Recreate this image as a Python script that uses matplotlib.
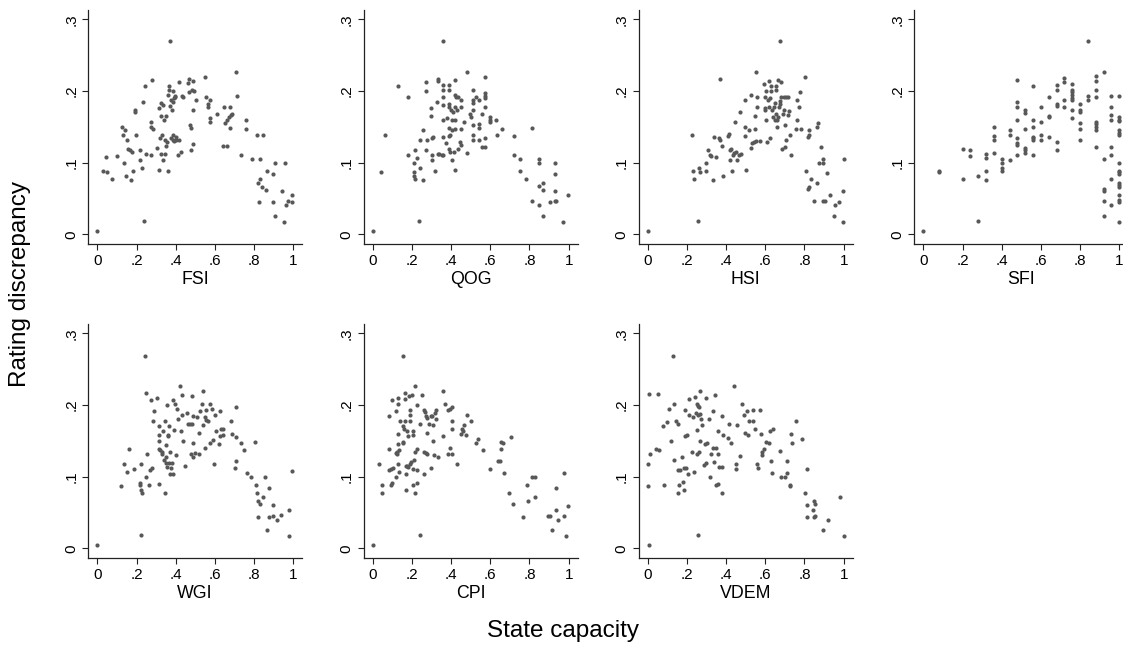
import matplotlib
matplotlib.use('Agg')
import matplotlib.pyplot as plt

plt.rcParams['font.family'] = ['Liberation Sans', 'DejaVu Sans']

# (state capacity, rating discrepancy) per country
fsi_points = [
    (0.000, 0.004), (0.027, 0.089), (0.044, 0.108), (0.048, 0.087), (0.073, 0.077),
    (0.098, 0.109), (0.124, 0.150), (0.132, 0.139), (0.141, 0.145), (0.138, 0.100),
    (0.149, 0.132), (0.146, 0.082), (0.158, 0.119), (0.166, 0.118), (0.171, 0.076),
    (0.177, 0.115), (0.180, 0.089), (0.192, 0.170), (0.194, 0.173), (0.197, 0.138),
    (0.217, 0.117), (0.217, 0.104), (0.228, 0.092), (0.231, 0.185), (0.238, 0.019),
    (0.244, 0.207), (0.248, 0.112), (0.272, 0.157), (0.273, 0.150), (0.278, 0.215),
    (0.282, 0.147), (0.273, 0.111), (0.306, 0.120), (0.314, 0.176), (0.316, 0.090),
    (0.319, 0.135), (0.323, 0.112), (0.326, 0.183), (0.326, 0.165), (0.328, 0.139),
    (0.333, 0.180), (0.336, 0.103), (0.340, 0.159), (0.343, 0.132), (0.345, 0.112),
    (0.353, 0.165), (0.353, 0.123), (0.357, 0.129), (0.362, 0.194), (0.363, 0.089),
    (0.367, 0.207), (0.370, 0.269), (0.367, 0.201), (0.372, 0.179), (0.374, 0.134),
    (0.377, 0.188), (0.380, 0.173), (0.384, 0.132), (0.384, 0.185), (0.387, 0.200),
    (0.387, 0.139), (0.389, 0.130), (0.390, 0.190), (0.394, 0.191), (0.396, 0.193),
    (0.404, 0.136), (0.404, 0.132), (0.413, 0.111), (0.416, 0.132), (0.418, 0.212),
    (0.428, 0.115), (0.430, 0.193), (0.436, 0.192), (0.463, 0.211), (0.469, 0.217),
    (0.469, 0.198), (0.475, 0.153), (0.479, 0.149), (0.484, 0.202), (0.486, 0.173),
    (0.480, 0.118), (0.489, 0.126), (0.489, 0.214), (0.492, 0.200), (0.503, 0.187),
    (0.547, 0.220), (0.553, 0.191), (0.564, 0.182), (0.564, 0.177), (0.574, 0.187),
    (0.574, 0.162), (0.574, 0.157), (0.613, 0.168), (0.642, 0.123), (0.645, 0.177),
    (0.650, 0.155), (0.662, 0.123), (0.662, 0.159), (0.672, 0.163), (0.679, 0.177),
    (0.679, 0.148), (0.684, 0.167), (0.689, 0.168), (0.710, 0.226), (0.713, 0.193),
    (0.735, 0.111), (0.757, 0.160), (0.757, 0.147), (0.791, 0.105), (0.817, 0.139),
    (0.847, 0.138), (0.828, 0.105), (0.907, 0.100), (0.958, 0.099), (0.864, 0.088),
    (0.899, 0.084), (0.828, 0.077), (0.822, 0.071), (0.839, 0.066), (0.859, 0.062),
    (0.941, 0.060), (0.991, 0.055), (0.825, 0.045), (0.899, 0.045), (0.973, 0.046),
    (0.996, 0.045), (0.965, 0.041), (0.907, 0.026), (0.953, 0.017),
]

qog_points = [
    (0.000, 0.004), (0.043, 0.087), (0.061, 0.139), (0.128, 0.207), (0.179, 0.192),
    (0.181, 0.111), (0.211, 0.100), (0.211, 0.087), (0.211, 0.082), (0.214, 0.077),
    (0.216, 0.117), (0.226, 0.107), (0.235, 0.019), (0.242, 0.132), (0.242, 0.092),
    (0.255, 0.145), (0.255, 0.076), (0.270, 0.212), (0.270, 0.200), (0.272, 0.118),
    (0.275, 0.131), (0.299, 0.176), (0.299, 0.165), (0.301, 0.135), (0.301, 0.111),
    (0.301, 0.103), (0.306, 0.136), (0.316, 0.088), (0.332, 0.216), (0.332, 0.214),
    (0.330, 0.185), (0.332, 0.112), (0.340, 0.112), (0.352, 0.111), (0.357, 0.208),
    (0.361, 0.269), (0.361, 0.201), (0.361, 0.191), (0.361, 0.180), (0.361, 0.159),
    (0.361, 0.136), (0.361, 0.110), (0.374, 0.127), (0.378, 0.162), (0.388, 0.137),
    (0.390, 0.208), (0.390, 0.201), (0.390, 0.182), (0.391, 0.178), (0.391, 0.149),
    (0.391, 0.119), (0.395, 0.139), (0.395, 0.115), (0.400, 0.173), (0.403, 0.160),
    (0.407, 0.145), (0.407, 0.104), (0.412, 0.171), (0.415, 0.115), (0.419, 0.215),
    (0.419, 0.194), (0.420, 0.090), (0.422, 0.177), (0.422, 0.159), (0.422, 0.147),
    (0.426, 0.192), (0.429, 0.174), (0.434, 0.119), (0.437, 0.192), (0.446, 0.129),
    (0.449, 0.187), (0.449, 0.177), (0.449, 0.147), (0.453, 0.125), (0.466, 0.156),
    (0.480, 0.226), (0.482, 0.113), (0.497, 0.168), (0.500, 0.164), (0.511, 0.201),
    (0.511, 0.187), (0.511, 0.183), (0.511, 0.173), (0.511, 0.153), (0.511, 0.139),
    (0.511, 0.132), (0.528, 0.192), (0.540, 0.187), (0.540, 0.154), (0.541, 0.148),
    (0.541, 0.132), (0.557, 0.168), (0.558, 0.122), (0.572, 0.220), (0.572, 0.197),
    (0.572, 0.193), (0.572, 0.190), (0.572, 0.177), (0.572, 0.134), (0.572, 0.122),
    (0.599, 0.163), (0.599, 0.159), (0.601, 0.157), (0.631, 0.159), (0.633, 0.139),
    (0.662, 0.147), (0.722, 0.137), (0.722, 0.111), (0.752, 0.105), (0.752, 0.088),
    (0.783, 0.077), (0.814, 0.149), (0.812, 0.046), (0.846, 0.105), (0.846, 0.099),
    (0.846, 0.067), (0.848, 0.041), (0.871, 0.071), (0.871, 0.062), (0.871, 0.026),
    (0.907, 0.045), (0.931, 0.099), (0.931, 0.084), (0.931, 0.060), (0.931, 0.046),
    (0.934, 0.047), (0.999, 0.055), (0.971, 0.017),
]

hsi_points = [
    (0.000, 0.004), (0.224, 0.139), (0.232, 0.088), (0.234, 0.077), (0.256, 0.019),
    (0.263, 0.092), (0.266, 0.087), (0.295, 0.088), (0.297, 0.100), (0.308, 0.118),
    (0.317, 0.111), (0.325, 0.109), (0.331, 0.076), (0.336, 0.136), (0.347, 0.108),
    (0.364, 0.134), (0.368, 0.132), (0.368, 0.217), (0.381, 0.123), (0.386, 0.082),
    (0.412, 0.137), (0.415, 0.140), (0.420, 0.117), (0.422, 0.103), (0.427, 0.119),
    (0.431, 0.088), (0.436, 0.111), (0.441, 0.113), (0.447, 0.156), (0.453, 0.115),
    (0.458, 0.104), (0.466, 0.111), (0.469, 0.170), (0.478, 0.112), (0.495, 0.150),
    (0.498, 0.187), (0.498, 0.137), (0.503, 0.090), (0.517, 0.146), (0.525, 0.194),
    (0.529, 0.120), (0.534, 0.127), (0.541, 0.129), (0.546, 0.165), (0.547, 0.147),
    (0.551, 0.226), (0.554, 0.130), (0.558, 0.191), (0.559, 0.178), (0.571, 0.130),
    (0.592, 0.209), (0.597, 0.176), (0.598, 0.191), (0.600, 0.173), (0.602, 0.159),
    (0.605, 0.200), (0.608, 0.129), (0.612, 0.187), (0.619, 0.214), (0.619, 0.177),
    (0.622, 0.190), (0.625, 0.134), (0.629, 0.200), (0.631, 0.207), (0.636, 0.173),
    (0.639, 0.164), (0.642, 0.177), (0.647, 0.160), (0.651, 0.183), (0.653, 0.201),
    (0.654, 0.207), (0.656, 0.168), (0.658, 0.150), (0.659, 0.159), (0.663, 0.164),
    (0.664, 0.215), (0.669, 0.178), (0.673, 0.186), (0.676, 0.269), (0.676, 0.182),
    (0.678, 0.191), (0.681, 0.213), (0.686, 0.119), (0.690, 0.168), (0.693, 0.192),
    (0.698, 0.173), (0.703, 0.122), (0.703, 0.153), (0.707, 0.191), (0.707, 0.132),
    (0.715, 0.192), (0.717, 0.167), (0.720, 0.172), (0.724, 0.139), (0.731, 0.111),
    (0.758, 0.147), (0.761, 0.187), (0.763, 0.159), (0.771, 0.177), (0.778, 0.198),
    (0.781, 0.147), (0.805, 0.220), (0.821, 0.146), (0.864, 0.150), (0.868, 0.155),
    (0.821, 0.139), (0.818, 0.136), (0.882, 0.122), (0.872, 0.100), (0.897, 0.105),
    (0.897, 0.099), (1.000, 0.105), (0.915, 0.085), (0.807, 0.088), (0.834, 0.077),
    (0.821, 0.066), (0.817, 0.063), (0.865, 0.072), (0.848, 0.046), (0.894, 0.046),
    (0.903, 0.047), (0.932, 0.055), (0.954, 0.041), (0.976, 0.045), (0.997, 0.060),
    (0.949, 0.026), (0.997, 0.017),
]

sfi_points = [
    (0.00, 0.004), (0.08, 0.088), (0.08, 0.087), (0.20, 0.119), (0.20, 0.077),
    (0.24, 0.118), (0.24, 0.109), (0.28, 0.082), (0.28, 0.019),
    (0.32, 0.112), (0.32, 0.107), (0.32, 0.088), (0.32, 0.076),
    (0.36, 0.150), (0.36, 0.137), (0.36, 0.132), (0.36, 0.114),
    (0.40, 0.105), (0.40, 0.100), (0.40, 0.092), (0.40, 0.088),
    (0.44, 0.145), (0.44, 0.139), (0.44, 0.103),
    (0.48, 0.215), (0.48, 0.185), (0.48, 0.177), (0.48, 0.159), (0.48, 0.134),
    (0.48, 0.127), (0.48, 0.124), (0.48, 0.111),
    (0.52, 0.174), (0.52, 0.169), (0.52, 0.147), (0.52, 0.120), (0.52, 0.117), (0.52, 0.113),
    (0.56, 0.207), (0.56, 0.159), (0.56, 0.150), (0.56, 0.136), (0.56, 0.134),
    (0.56, 0.131), (0.56, 0.111),
    (0.60, 0.178), (0.60, 0.156), (0.60, 0.139), (0.60, 0.132),
    (0.64, 0.192), (0.64, 0.165), (0.64, 0.163), (0.64, 0.136),
    (0.68, 0.208), (0.68, 0.202), (0.68, 0.182), (0.68, 0.179), (0.68, 0.129), (0.68, 0.118),
    (0.72, 0.218), (0.72, 0.213), (0.72, 0.187), (0.72, 0.177),
    (0.76, 0.210), (0.76, 0.201), (0.76, 0.198), (0.76, 0.194), (0.76, 0.190),
    (0.76, 0.187), (0.76, 0.173), (0.76, 0.162),
    (0.80, 0.182), (0.80, 0.174), (0.80, 0.171), (0.80, 0.155), (0.80, 0.147), (0.80, 0.131),
    (0.84, 0.269), (0.84, 0.193), (0.84, 0.187),
    (0.88, 0.221), (0.88, 0.214), (0.88, 0.202), (0.88, 0.191), (0.88, 0.157),
    (0.88, 0.154), (0.88, 0.150), (0.88, 0.146), (0.88, 0.122),
    (0.92, 0.226), (0.92, 0.105), (0.92, 0.063), (0.92, 0.061), (0.92, 0.046), (0.92, 0.026),
    (0.96, 0.193), (0.96, 0.177), (0.96, 0.167), (0.96, 0.159), (0.96, 0.122),
    (0.96, 0.111), (0.96, 0.077), (0.96, 0.041),
    (1.00, 0.193), (1.00, 0.164), (1.00, 0.160), (1.00, 0.158), (1.00, 0.146),
    (1.00, 0.141), (1.00, 0.138), (1.00, 0.099), (1.00, 0.089), (1.00, 0.087),
    (1.00, 0.084), (1.00, 0.072), (1.00, 0.069), (1.00, 0.066), (1.00, 0.055),
    (1.00, 0.048), (1.00, 0.045), (1.00, 0.017),
]

wgi_points = [
    (0.000, 0.004), (0.119, 0.087), (0.136, 0.118), (0.149, 0.107), (0.163, 0.139),
    (0.189, 0.110), (0.217, 0.088), (0.219, 0.091), (0.222, 0.082), (0.224, 0.117),
    (0.228, 0.077), (0.221, 0.019), (0.243, 0.268), (0.248, 0.100), (0.251, 0.217),
    (0.256, 0.132), (0.265, 0.088), (0.268, 0.109), (0.272, 0.207), (0.279, 0.112),
    (0.282, 0.178), (0.289, 0.192), (0.306, 0.209), (0.313, 0.138), (0.313, 0.090),
    (0.314, 0.170), (0.316, 0.150), (0.316, 0.158), (0.319, 0.137), (0.328, 0.135),
    (0.331, 0.132), (0.336, 0.164), (0.340, 0.123), (0.343, 0.177), (0.346, 0.077),
    (0.350, 0.144), (0.350, 0.119), (0.353, 0.128), (0.357, 0.114), (0.358, 0.200),
    (0.360, 0.158), (0.362, 0.156), (0.365, 0.171), (0.367, 0.119), (0.370, 0.135),
    (0.370, 0.104), (0.374, 0.112), (0.379, 0.119), (0.387, 0.207), (0.387, 0.104),
    (0.391, 0.165), (0.397, 0.202), (0.399, 0.130), (0.408, 0.194), (0.411, 0.181),
    (0.421, 0.226), (0.425, 0.164), (0.430, 0.214), (0.433, 0.186), (0.435, 0.150),
    (0.450, 0.115), (0.459, 0.189), (0.464, 0.173), (0.472, 0.173), (0.479, 0.132),
    (0.481, 0.173), (0.484, 0.212), (0.486, 0.185), (0.486, 0.147), (0.489, 0.128),
    (0.498, 0.133), (0.511, 0.183), (0.518, 0.132), (0.520, 0.161), (0.526, 0.191),
    (0.532, 0.202), (0.538, 0.220), (0.540, 0.172), (0.549, 0.183), (0.552, 0.140),
    (0.554, 0.179), (0.557, 0.193), (0.565, 0.177), (0.574, 0.202), (0.577, 0.147),
    (0.583, 0.194), (0.591, 0.151), (0.596, 0.118), (0.600, 0.186), (0.608, 0.164),
    (0.620, 0.145), (0.625, 0.157), (0.628, 0.192), (0.632, 0.167), (0.642, 0.167),
    (0.639, 0.158), (0.684, 0.177), (0.688, 0.160), (0.703, 0.112), (0.706, 0.197),
    (0.710, 0.122), (0.706, 0.155), (0.734, 0.147), (0.747, 0.137), (0.764, 0.105),
    (0.786, 0.099), (0.803, 0.149), (0.808, 0.088), (0.815, 0.077), (0.822, 0.066),
    (0.822, 0.044), (0.832, 0.062), (0.846, 0.071), (0.858, 0.100), (0.866, 0.026),
    (0.876, 0.084), (0.876, 0.044), (0.897, 0.060), (0.897, 0.045), (0.919, 0.040),
    (0.939, 0.047), (0.978, 0.054), (0.978, 0.017), (0.996, 0.108),
]

cpi_points = [
    (0.000, 0.004), (0.034, 0.118), (0.049, 0.088), (0.049, 0.077), (0.082, 0.138),
    (0.083, 0.185), (0.085, 0.109), (0.094, 0.110), (0.095, 0.088), (0.097, 0.091),
    (0.097, 0.207), (0.102, 0.112), (0.117, 0.192), (0.119, 0.100), (0.119, 0.133),
    (0.123, 0.132), (0.126, 0.135), (0.131, 0.202), (0.131, 0.209), (0.131, 0.146),
    (0.131, 0.159), (0.131, 0.118), (0.133, 0.107), (0.134, 0.137), (0.140, 0.177),
    (0.153, 0.170), (0.153, 0.149), (0.157, 0.147), (0.157, 0.268), (0.160, 0.166),
    (0.165, 0.208), (0.167, 0.217), (0.167, 0.178), (0.169, 0.104), (0.169, 0.082),
    (0.169, 0.115), (0.174, 0.164), (0.177, 0.115), (0.180, 0.156), (0.182, 0.114),
    (0.187, 0.212), (0.191, 0.118), (0.191, 0.186), (0.191, 0.193), (0.192, 0.177),
    (0.194, 0.120), (0.199, 0.214), (0.204, 0.164), (0.204, 0.158), (0.204, 0.110),
    (0.204, 0.088), (0.211, 0.123), (0.216, 0.226), (0.216, 0.135), (0.216, 0.077),
    (0.225, 0.200), (0.226, 0.138), (0.228, 0.091), (0.228, 0.109), (0.242, 0.019),
    (0.242, 0.173), (0.252, 0.214), (0.260, 0.135), (0.260, 0.193), (0.262, 0.104),
    (0.267, 0.190), (0.272, 0.185), (0.272, 0.133), (0.276, 0.161), (0.276, 0.132),
    (0.279, 0.182), (0.289, 0.173), (0.296, 0.185), (0.299, 0.112), (0.301, 0.184),
    (0.309, 0.150), (0.309, 0.172), (0.313, 0.130), (0.318, 0.189), (0.323, 0.193),
    (0.323, 0.181), (0.335, 0.127), (0.357, 0.157), (0.361, 0.220), (0.371, 0.201),
    (0.383, 0.132), (0.383, 0.193), (0.393, 0.194), (0.395, 0.140), (0.403, 0.197),
    (0.407, 0.178), (0.407, 0.167), (0.407, 0.132), (0.429, 0.118), (0.453, 0.160),
    (0.456, 0.167), (0.463, 0.164), (0.466, 0.172), (0.477, 0.158), (0.480, 0.186),
    (0.502, 0.177), (0.526, 0.147), (0.538, 0.152), (0.562, 0.137), (0.599, 0.111),
    (0.640, 0.122), (0.652, 0.122), (0.657, 0.138), (0.657, 0.149), (0.667, 0.147),
    (0.669, 0.105), (0.705, 0.155), (0.693, 0.077), (0.717, 0.062), (0.766, 0.044),
    (0.788, 0.088), (0.790, 0.066), (0.814, 0.100), (0.826, 0.099), (0.826, 0.071),
    (0.933, 0.084), (0.933, 0.054), (0.999, 0.059), (0.894, 0.045), (0.906, 0.045),
    (0.945, 0.040), (0.976, 0.045), (0.915, 0.026), (0.988, 0.017), (0.976, 0.105),
]

vdem_points = [
    (0.008, 0.004), (0.000, 0.118), (0.003, 0.087), (0.007, 0.215), (0.012, 0.132),
    (0.041, 0.139), (0.051, 0.215), (0.059, 0.137), (0.076, 0.170), (0.085, 0.088),
    (0.100, 0.176), (0.107, 0.194), (0.117, 0.150), (0.129, 0.268), (0.132, 0.201),
    (0.136, 0.123), (0.144, 0.178), (0.153, 0.109), (0.153, 0.077), (0.156, 0.173),
    (0.159, 0.088), (0.167, 0.109), (0.173, 0.127), (0.178, 0.092), (0.186, 0.112),
    (0.186, 0.082), (0.192, 0.193), (0.192, 0.156), (0.195, 0.112), (0.198, 0.158),
    (0.207, 0.104), (0.210, 0.208), (0.212, 0.186), (0.225, 0.135), (0.229, 0.183),
    (0.234, 0.107), (0.241, 0.211), (0.246, 0.189), (0.249, 0.201), (0.253, 0.132),
    (0.254, 0.165), (0.256, 0.019), (0.258, 0.199), (0.259, 0.186), (0.263, 0.135),
    (0.263, 0.197), (0.266, 0.220), (0.266, 0.188), (0.269, 0.150), (0.273, 0.180),
    (0.276, 0.172), (0.288, 0.116), (0.292, 0.146), (0.295, 0.119), (0.297, 0.209),
    (0.305, 0.147), (0.314, 0.181), (0.317, 0.100), (0.325, 0.132), (0.331, 0.192),
    (0.334, 0.140), (0.337, 0.120), (0.342, 0.214), (0.347, 0.140), (0.351, 0.088),
    (0.358, 0.132), (0.361, 0.090), (0.364, 0.113), (0.359, 0.164), (0.380, 0.114),
    (0.380, 0.077), (0.381, 0.185), (0.386, 0.158), (0.410, 0.154), (0.417, 0.174),
    (0.424, 0.147), (0.439, 0.226), (0.449, 0.118), (0.449, 0.110), (0.456, 0.172),
    (0.471, 0.129), (0.480, 0.202), (0.490, 0.186), (0.495, 0.161), (0.508, 0.191),
    (0.514, 0.158), (0.515, 0.177), (0.537, 0.177), (0.537, 0.193), (0.547, 0.167),
    (0.558, 0.118), (0.561, 0.112), (0.571, 0.193), (0.576, 0.160), (0.581, 0.135),
    (0.583, 0.130), (0.595, 0.138), (0.602, 0.149), (0.619, 0.147), (0.622, 0.164),
    (0.627, 0.122), (0.632, 0.105), (0.639, 0.167), (0.673, 0.136), (0.678, 0.100),
    (0.703, 0.100), (0.712, 0.122), (0.712, 0.105), (0.724, 0.087), (0.727, 0.088),
    (0.732, 0.159), (0.737, 0.147), (0.758, 0.177), (0.788, 0.153), (0.805, 0.077),
    (0.812, 0.060), (0.812, 0.044), (0.815, 0.110), (0.842, 0.054), (0.851, 0.066),
    (0.856, 0.062), (0.846, 0.044), (0.856, 0.045), (0.893, 0.026), (0.919, 0.040),
    (0.979, 0.071), (1.000, 0.017),
]

panel_names = ['FSI', 'QOG', 'HSI', 'SFI', 'WGI', 'CPI', 'VDEM']
panel_points = [fsi_points, qog_points, hsi_points, sfi_points,
                wgi_points, cpi_points, vdem_points]

x_ticks = [0, 0.2, 0.4, 0.6, 0.8, 1]
x_tick_labels = ['0', '.2', '.4', '.6', '.8', '1']
y_ticks = [0, 0.1, 0.2, 0.3]
y_tick_labels = ['0', '.1', '.2', '.3']

W, H = 1123, 653
fig = plt.figure(figsize=(W / 100, H / 100), dpi=100, facecolor='white')

# panel frames in pixels (Stata-like grid, 4 columns)
col_left = [88.1, 363.5, 638.5, 914.1]
row_top = [10.3, 324.3]
ax_w, ax_h = 214.0, 233.7

for i, (name, pts) in enumerate(zip(panel_names, panel_points)):
    row, col = divmod(i, 4)
    ax = fig.add_axes([col_left[col] / W, 1 - (row_top[row] + ax_h) / H, ax_w / W, ax_h / H])
    xs = [p[0] for p in pts]
    ys = [p[1] for p in pts]
    ax.plot(xs, ys, 'o', ms=3.0, mew=0, color='#585858', clip_on=False)
    ax.set_xlim(-0.047, 1.045)
    ax.set_ylim(-0.0135, 0.3125)
    ax.set_xticks(x_ticks)
    ax.set_xticklabels(x_tick_labels)
    ax.set_yticks(y_ticks)
    ax.set_yticklabels(y_tick_labels, rotation=90, va='center')
    for s in ['top', 'right']:
        ax.spines[s].set_visible(False)
    for s in ['left', 'bottom']:
        ax.spines[s].set_linewidth(0.9)
        ax.spines[s].set_color('#222222')
    ax.tick_params(length=4, width=0.8, pad=3, labelsize=11, color='#222222')
    ax.set_xlabel(name, fontsize=12.8, labelpad=2)
    ax.set_facecolor('white')

fig.text(20 / W, 1 - 284 / H, 'Rating discrepancy', rotation=90,
         ha='center', va='center', fontsize=17.5)
fig.text(563 / W, 1 - 631 / H, 'State capacity', ha='center', va='center', fontsize=17.5)

fig.savefig('out.png', dpi=100, facecolor='white')
